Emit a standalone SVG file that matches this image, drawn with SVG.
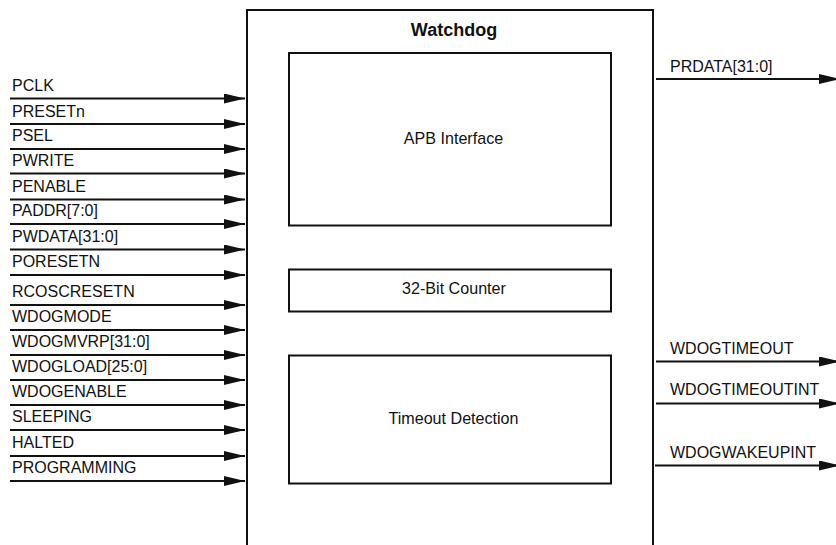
<svg xmlns="http://www.w3.org/2000/svg" width="836" height="545" viewBox="0 0 836 545">
<style>
  .box { fill: #fff; stroke: #111; stroke-width: 2; }
  .sig { stroke: #111; stroke-width: 2; fill: none; marker-end: url(#arr); }
  .lbl { font-family: "Liberation Sans", Arial, sans-serif; font-size: 16px; fill: #111; }
  .mid { font-family: "Liberation Sans", Arial, sans-serif; font-size: 16.1px; fill: #111; text-anchor: middle; }
  .title { font-family: "Liberation Sans", Arial, sans-serif; font-size: 18px; font-weight: bold; fill: #111; text-anchor: middle; }
</style>
<defs>
  <marker id="arr" markerUnits="userSpaceOnUse" markerWidth="21" markerHeight="10" refX="21" refY="5" orient="auto">
    <path d="M0,0 L21,5 L0,10 Z" fill="#111"/>
  </marker>
</defs>
<rect width="836" height="545" fill="#fff"/>
<g id="watchdog">
  <rect class="box" x="247" y="10" width="406" height="560"/>
  <text class="title" x="454" y="35.5">Watchdog</text>
</g>
<g id="apb">
  <rect class="box" x="289" y="53" width="322" height="172.5"/>
  <text class="mid" x="453.5" y="144">APB Interface</text>
</g>
<g id="counter">
  <rect class="box" x="289" y="269.5" width="322" height="42"/>
  <text class="mid" x="454" y="294">32-Bit Counter</text>
</g>
<g id="timeout">
  <rect class="box" x="289" y="355.5" width="322" height="128"/>
  <text class="mid" x="453.5" y="424">Timeout Detection</text>
</g>
<g id="connectors">
  <line class="sig" x1="10" y1="98.5" x2="245" y2="98.5"/>
  <line class="sig" x1="10" y1="124" x2="245" y2="124"/>
  <line class="sig" x1="10" y1="149" x2="245" y2="149"/>
  <line class="sig" x1="10" y1="173.5" x2="245" y2="173.5"/>
  <line class="sig" x1="10" y1="199.5" x2="245" y2="199.5"/>
  <line class="sig" x1="10" y1="224" x2="245" y2="224"/>
  <line class="sig" x1="10" y1="249.5" x2="245" y2="249.5"/>
  <line class="sig" x1="10" y1="275" x2="245" y2="275"/>
  <line class="sig" x1="10" y1="305" x2="245" y2="305"/>
  <line class="sig" x1="10" y1="330" x2="245" y2="330"/>
  <line class="sig" x1="10" y1="355" x2="245" y2="355"/>
  <line class="sig" x1="10" y1="380" x2="245" y2="380"/>
  <line class="sig" x1="10" y1="405" x2="245" y2="405"/>
  <line class="sig" x1="10" y1="430" x2="245" y2="430"/>
  <line class="sig" x1="10" y1="456" x2="245" y2="456"/>
  <line class="sig" x1="10" y1="481" x2="245" y2="481"/>
  <line class="sig" x1="656" y1="79" x2="840" y2="79"/>
  <line class="sig" x1="656" y1="361.5" x2="840" y2="361.5"/>
  <line class="sig" x1="656" y1="403.5" x2="840" y2="403.5"/>
  <line class="sig" x1="655" y1="465.5" x2="840" y2="465.5"/>
</g>
<g id="labels">
  <text class="lbl" x="12" y="90.5">PCLK</text>
  <text class="lbl" x="12" y="116.5">PRESETn</text>
  <text class="lbl" x="12" y="141">PSEL</text>
  <text class="lbl" x="12" y="165.5">PWRITE</text>
  <text class="lbl" x="12" y="191.5">PENABLE</text>
  <text class="lbl" x="12" y="216">PADDR[7:0]</text>
  <text class="lbl" x="12" y="241.5">PWDATA[31:0]</text>
  <text class="lbl" x="12" y="267">PORESETN</text>
  <text class="lbl" x="12" y="297">RCOSCRESETN</text>
  <text class="lbl" x="12" y="322">WDOGMODE</text>
  <text class="lbl" x="12" y="347">WDOGMVRP[31:0]</text>
  <text class="lbl" x="12" y="372">WDOGLOAD[25:0]</text>
  <text class="lbl" x="12" y="397">WDOGENABLE</text>
  <text class="lbl" x="12" y="422">SLEEPING</text>
  <text class="lbl" x="12" y="448">HALTED</text>
  <text class="lbl" x="12" y="473">PROGRAMMING</text>
  <text class="lbl" x="670" y="71.5">PRDATA[31:0]</text>
  <text class="lbl" x="670" y="353.5">WDOGTIMEOUT</text>
  <text class="lbl" x="670" y="394.5">WDOGTIMEOUTINT</text>
  <text class="lbl" x="670" y="457.5">WDOGWAKEUPINT</text>
</g>
</svg>
